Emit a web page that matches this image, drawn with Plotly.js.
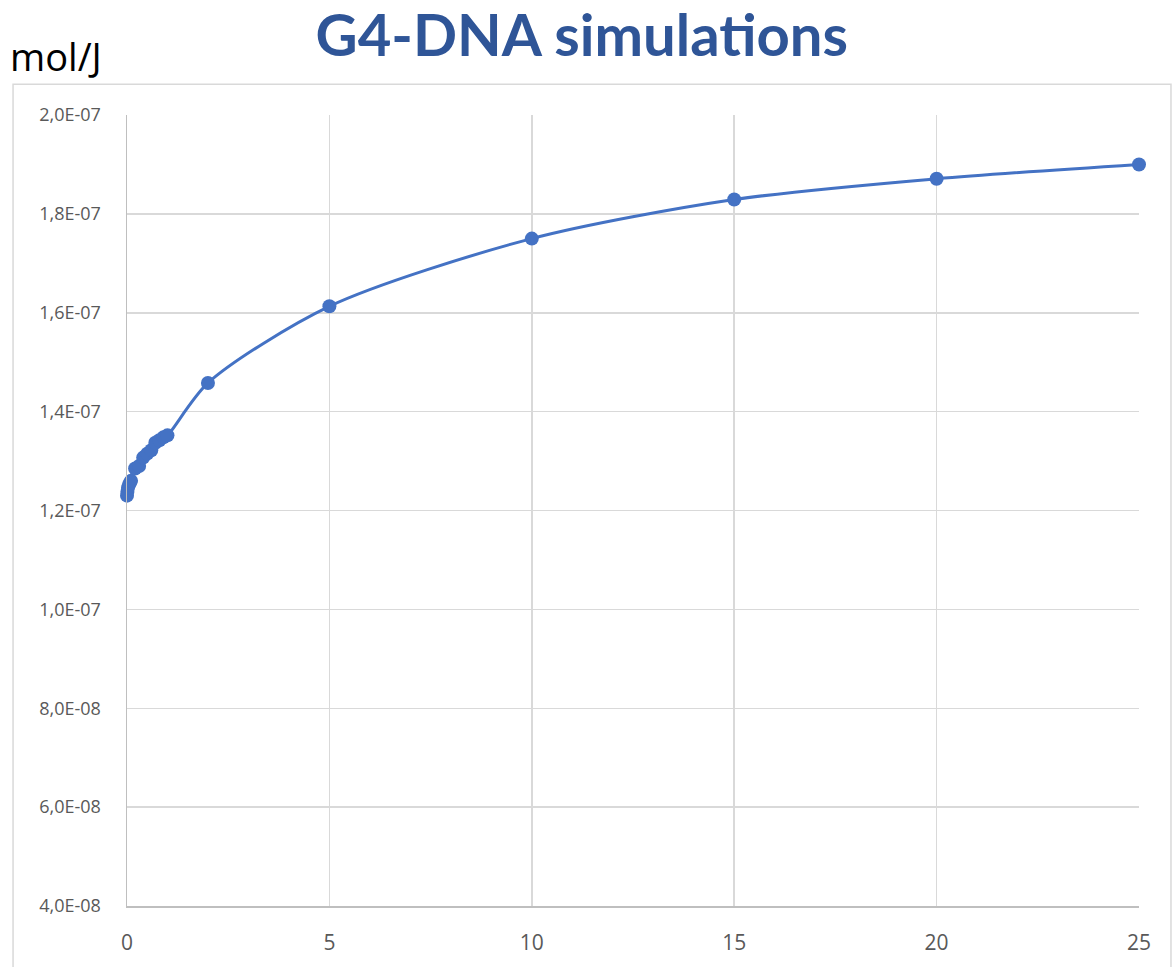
<!DOCTYPE html>
<html>
<head>
<meta charset="utf-8">
<script src="https://cdn.plot.ly/plotly-3.0.1.min.js"></script>
<style>html,body{margin:0;padding:0;background:#fff;}#chart{width:1173px;height:967px;}</style>
</head>
<body>
<div id="chart"></div>
<script>
// Data
const doseX = [0, 0.01, 0.025, 0.05, 0.075, 0.1, 0.2, 0.3, 0.4, 0.5, 0.6, 0.7, 0.8, 0.9, 1, 2, 5, 10, 15, 20, 25];
const yieldY = [1.230e-7, 1.238e-7, 1.246e-7, 1.252e-7, 1.256e-7, 1.260e-7, 1.285e-7, 1.290e-7, 1.307e-7, 1.315e-7, 1.322e-7, 1.337e-7, 1.342e-7, 1.348e-7, 1.352e-7, 1.458e-7, 1.613e-7, 1.750e-7, 1.829e-7, 1.871e-7, 1.900e-7];
const yTickVals = [4e-8, 6e-8, 8e-8, 1e-7, 1.2e-7, 1.4e-7, 1.6e-7, 1.8e-7, 2e-7];
const yTickText = ["4,0E-08", "6,0E-08", "8,0E-08", "1,0E-07", "1,2E-07", "1,4E-07", "1,6E-07", "1,8E-07", "2,0E-07"];
const xTickVals = [0, 5, 10, 15, 20, 25];

const trace = {
  x: doseX,
  y: yieldY,
  type: 'scatter',
  mode: 'lines+markers',
  cliponaxis: false,
  line: {color: '#4472C4', width: 3, shape: 'spline', smoothing: 0.8},
  marker: {color: '#4472C4', size: 14},
  hoverinfo: 'x+y'
};

const layout = {
  width: 1173,
  height: 967,
  margin: {l: 127, r: 34, t: 115, b: 61},
  paper_bgcolor: '#ffffff',
  plot_bgcolor: '#ffffff',
  showlegend: false,
  title: {
    text: '<b>G4-DNA simulations</b>',
    font: {family: 'Lato, "Open Sans", sans-serif', size: 58, color: '#2F5597'},
    x: 0.496, xanchor: 'center',
    y: 0.963, yanchor: 'middle'
  },
  xaxis: {
    range: [0, 25],
    tickvals: xTickVals,
    ticktext: xTickVals.map(String),
    showgrid: true,
    gridcolor: '#D9D9D9',
    gridwidth: 1.5,
    zeroline: false,
    showline: true,
    linecolor: '#BFBFBF',
    linewidth: 1.5,
    ticks: '',
    ticklen: 0,
    ticklabelstandoff: 17,
    tickfont: {family: '"Open Sans", sans-serif', size: 21, color: '#595959'},
    fixedrange: true
  },
  yaxis: {
    range: [4e-8, 2e-7],
    tickvals: yTickVals,
    ticktext: yTickText,
    showgrid: true,
    gridcolor: '#D9D9D9',
    gridwidth: 1.5,
    zeroline: false,
    showline: true,
    linecolor: '#BFBFBF',
    linewidth: 1.5,
    ticks: '',
    ticklen: 0,
    ticklabelstandoff: 21,
    tickfont: {family: '"Open Sans", sans-serif', size: 18, color: '#595959'},
    fixedrange: true
  },
  shapes: [{
    type: 'rect', xref: 'paper', yref: 'paper',
    x0: -0.1126, x1: 1.0316, y0: -0.12, y1: 1.039,
    line: {color: '#D9D9D9', width: 1.5},
    fillcolor: 'rgba(0,0,0,0)', layer: 'below'
  }],
  annotations: [{
    text: 'mol/J',
    xref: 'paper', yref: 'paper',
    x: -0.1175, y: 1.074, xanchor: 'left', yanchor: 'middle',
    showarrow: false,
    font: {family: '"Open Sans", sans-serif', size: 38, color: '#000000'}
  }]
};

Plotly.newPlot('chart', [trace], layout, {displayModeBar: false, staticPlot: true});
</script>
</body>
</html>
